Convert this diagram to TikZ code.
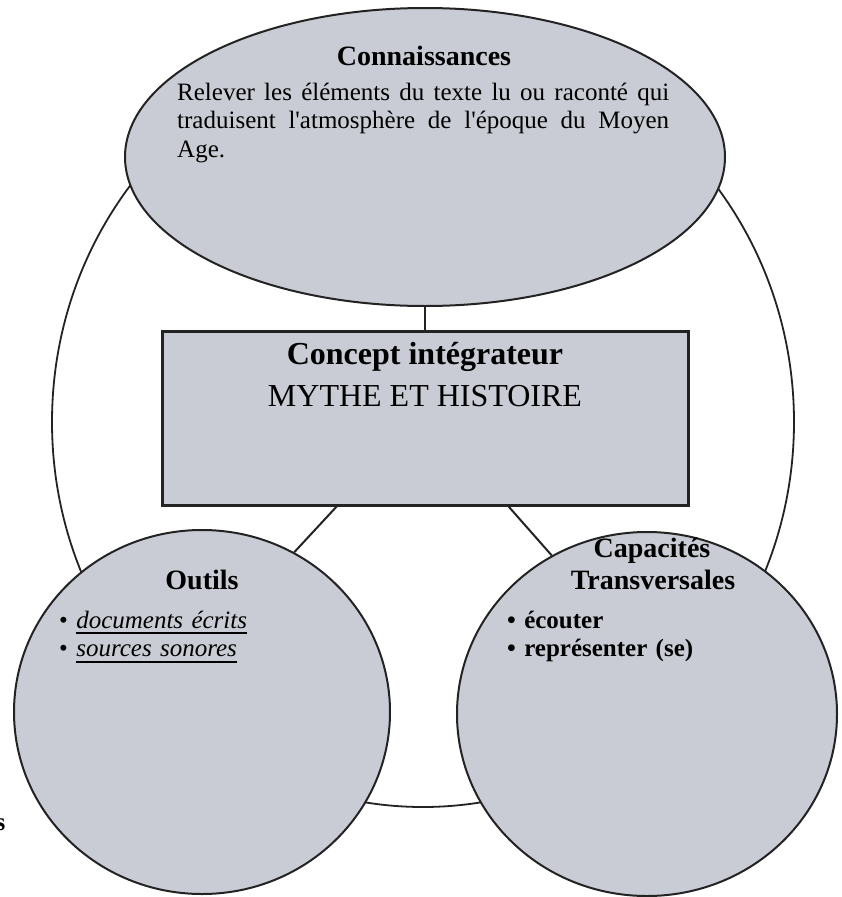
\documentclass[tikz,border=0pt]{standalone}
\usepackage{fontspec}
\setmainfont{Liberation Serif}[Ligatures=TeXOff]
\usetikzlibrary{shapes.geometric, positioning, calc}

\definecolor{bubblegray}{RGB}{201,204,212}
\definecolor{rim}{RGB}{35,35,35}

\tikzset{
  bubble/.style={ellipse, draw=rim, line width=2pt, fill=bubblegray, inner sep=0pt},
  head/.style={font=\fontsize{28}{32}\selectfont\bfseries, inner sep=0pt, anchor=base},
  itemlist/.style={font=\fontsize{25}{28.5}\selectfont, inner sep=0pt, anchor=base west, text width=300pt, align=left},
  link/.style={draw=rim, line width=2pt},
}
\newcommand\undl[1]{\setbox0\hbox{#1}\rlap{\rule[-6pt]{\wd0}{1.8pt}}\box0}

\begin{document}
\begin{tikzpicture}[x=1pt,y=-1pt]
	\useasboundingbox (0,0) rectangle (841,897);
	
	% outer ring
	\node[ellipse, draw=rim, line width=1.8pt, minimum width=742pt, minimum height=770pt, inner sep=0pt] (ring) at (423,422) {};
	
	% the four parts
	\node[bubble, minimum width=600pt, minimum height=298pt] (conn) at (425,157) {};
	\node[draw=rim, line width=3pt, fill=bubblegray, minimum width=526pt, minimum height=174pt, inner sep=0pt] (concept) at (425,418) {};
	\node[bubble, minimum width=376pt, minimum height=364pt] (outils) at (202,712) {};
	\node[bubble, minimum width=380pt, minimum height=364pt] (capa) at (647,714) {};
	
	\draw[link] (conn.south) -- (concept.north);
	\draw[link] ($(concept.south west)!0.333!(concept.south east)$) -- (outils.60);
	\draw[link] ($(concept.south west)!0.658!(concept.south east)$) -- (capa.121);
	
	% texts
	\node[head] (conn-title) at (424,65) {Connaissances};
	\node[font=\fontsize{25}{28.5}\selectfont, text width=492pt, align=justify, inner sep=0pt, anchor=base west] (conn-text) at (177,100)
		{\hyphenpenalty=10000\relax Relever les éléments du texte lu ou raconté qui traduisent l'atmosphère de l'époque du Moyen Age.};
	
	\node[font=\fontsize{32}{36}\selectfont\bfseries, inner sep=0pt, anchor=base] (concept-title) at (425,364) {Concept intégrateur};
	\node[font=\fontsize{32}{36}\selectfont, inner sep=0pt, anchor=base] (concept-sub) at (425,406) {MYTHE ET HISTOIRE};
	
	\node[head] (outils-title) at (202,589) {Outils};
	\node[itemlist] (outils-list) at (59,628)
		{\textbullet\ \undl{\textit{documents écrits}}\\\textbullet\ \undl{\textit{sources sonores}}};
	
	\node[head] (capa-title) at (652,557) {Capacités};
	\node[head] (capa-title2) at (653,589) {Transversales};
	\node[itemlist, font=\fontsize{25}{28.5}\selectfont\bfseries] (capa-list) at (507,628)
		{\textbullet\ écouter\\\textbullet\ représenter (se)};
	
	\node[font=\fontsize{25}{28}\selectfont\bfseries, inner sep=0pt, anchor=base east] (stray) at (5.5,830) {s};
\end{tikzpicture}
\end{document}
